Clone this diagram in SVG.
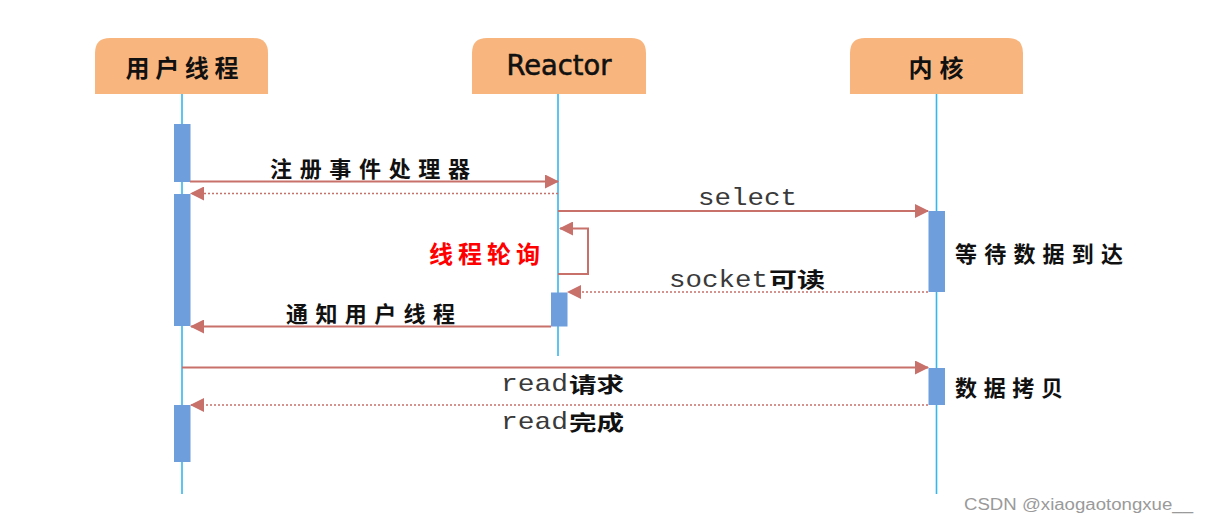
<svg xmlns="http://www.w3.org/2000/svg" width="1208" height="523" viewBox="0 0 1208 523">
<style>
.hdr{fill:#F8B67E;}
.life{stroke:#35B7EE;stroke-width:1.6;fill:none;}
.bar{fill:#6F9EDC;}
.msg{stroke:#C8706A;stroke-width:2;fill:none;}
.ret{stroke:#C8706A;stroke-width:1.6;fill:none;stroke-dasharray:2 2;}
.cn{font-family:"Noto Sans CJK SC","Noto Sans",sans-serif;font-weight:700;font-size:22px;fill:#111;}
.cs{font-family:"Noto Sans CJK SC","Noto Sans",sans-serif;font-weight:700;font-size:21px;fill:#111;}
.hcn{font-family:"Noto Sans CJK SC","Noto Sans",sans-serif;font-weight:700;font-size:24px;fill:#111;}
.mono{font-family:"Liberation Mono","DejaVu Sans Mono",monospace;font-size:24px;fill:#3a3a3a;}
</style>
<defs>
<marker id="ah" markerUnits="userSpaceOnUse" markerWidth="14" markerHeight="14" viewBox="0 0 14 14" refX="13" refY="7" orient="auto">
<path d="M0,0 L14,7 L0,14 z" fill="#C8706A"/>
</marker>
</defs>
<rect width="1208" height="523" fill="#ffffff"/>

<g id="user">
<path class="hdr" d="M95,94 V53 Q95,38 110,38 H253 Q268,38 268,53 V94 Z"/>
<text class="hcn" x="182" y="66" text-anchor="middle" dominant-baseline="central" textLength="113" lengthAdjust="spacing">用户线程</text>
<line class="life" x1="182" y1="94" x2="182" y2="494"/>
<rect class="bar" x="174" y="124" width="16.5" height="58"/>
<rect class="bar" x="174" y="194" width="16.5" height="132"/>
<rect class="bar" x="174" y="405" width="16.5" height="57"/>
</g>

<g id="reactor">
<path class="hdr" d="M472,94 V53 Q472,38 487,38 H631 Q646,38 646,53 V94 Z"/>
<text x="559" y="75" text-anchor="middle" font-family="'DejaVu Sans',sans-serif" font-size="28" fill="#111" stroke="#111" stroke-width="0.6" textLength="105" lengthAdjust="spacingAndGlyphs">Reactor</text>
<line class="life" x1="558" y1="94" x2="558" y2="356"/>
<rect class="bar" x="551" y="292.5" width="16.5" height="34"/>
</g>

<g id="kernel">
<path class="hdr" d="M850,94 V53 Q850,38 865,38 H1008 Q1023,38 1023,53 V94 Z"/>
<text class="hcn" x="936" y="66" text-anchor="middle" dominant-baseline="central" textLength="55" lengthAdjust="spacing">内核</text>
<line class="life" x1="936.5" y1="94" x2="936.5" y2="494"/>
<rect class="bar" x="928.5" y="211" width="16.5" height="81"/>
<rect class="bar" x="928.5" y="368" width="16.5" height="37"/>
</g>

<g id="connectors">
<line class="msg" x1="190" y1="181.5" x2="558" y2="181.5" marker-end="url(#ah)"/>
<line class="ret" x1="558" y1="193.5" x2="191" y2="193.5" marker-end="url(#ah)"/>
<line class="msg" x1="558" y1="211" x2="928" y2="211" marker-end="url(#ah)"/>
<path class="msg" d="M558,274 H588 V228.5 H560" marker-end="url(#ah)"/>
<line class="ret" x1="928" y1="292" x2="568" y2="292" marker-end="url(#ah)"/>
<line class="msg" x1="551" y1="326.5" x2="191" y2="326.5" marker-end="url(#ah)"/>
<line class="msg" x1="182" y1="367.5" x2="928" y2="367.5" marker-end="url(#ah)"/>
<line class="ret" x1="928" y1="405" x2="191" y2="405" marker-end="url(#ah)"/>
</g>

<g id="labels">
<text class="cn" x="270" y="167" dominant-baseline="central" textLength="200" lengthAdjust="spacing">注册事件处理器</text>
<text class="mono" x="698" y="205" textLength="99" lengthAdjust="spacingAndGlyphs">select</text>
<text class="cn" x="429" y="252.5" dominant-baseline="central" style="fill:#FF0000;font-size:24px" textLength="111" lengthAdjust="spacing">线程轮询</text>
<text class="cn" x="955" y="252" dominant-baseline="central" textLength="168" lengthAdjust="spacing">等待数据到达</text>
<text class="mono" x="669" y="287" textLength="99" lengthAdjust="spacingAndGlyphs">socket</text>
<text class="cs" x="769" y="278" dominant-baseline="central" textLength="56" lengthAdjust="spacingAndGlyphs">可读</text>
<text class="cn" x="286" y="312" dominant-baseline="central" textLength="169" lengthAdjust="spacing">通知用户线程</text>
<text class="mono" x="501" y="391" textLength="67" lengthAdjust="spacingAndGlyphs">read</text>
<text class="cs" x="569" y="383" dominant-baseline="central" textLength="55" lengthAdjust="spacingAndGlyphs">请求</text>
<text class="cn" x="955" y="386" dominant-baseline="central" textLength="108" lengthAdjust="spacing">数据拷贝</text>
<text class="mono" x="501" y="429" textLength="67" lengthAdjust="spacingAndGlyphs">read</text>
<text class="cs" x="569" y="421" dominant-baseline="central" textLength="55" lengthAdjust="spacingAndGlyphs">完成</text>
<text x="964" y="510" font-family="'Liberation Sans',Arial,sans-serif" font-size="16" fill="#9a9a9a" textLength="229" lengthAdjust="spacingAndGlyphs">CSDN @xiaogaotongxue__</text>
</g>
</svg>
